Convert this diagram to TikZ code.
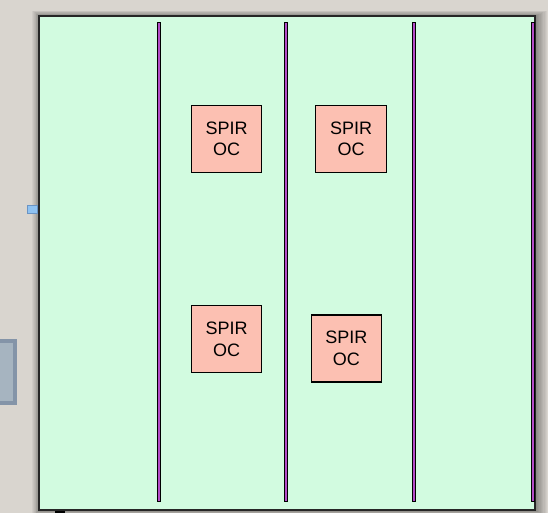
\documentclass[tikz,border=0pt]{standalone}
\usepackage{fontspec}
\setmainfont{Liberation Sans}
\definecolor{bgbeige}{HTML}{D9D5CF}
\definecolor{mint}{HTML}{D2FBE0}
\definecolor{salmon}{HTML}{FCC0B2}
\definecolor{barmag}{HTML}{B44CC8}
\definecolor{frameline}{HTML}{262626}
\definecolor{portblue}{HTML}{8EC2F2}
\definecolor{portblueline}{HTML}{6A94C4}
\definecolor{greyfill}{HTML}{A6B4C0}
\definecolor{greyline}{HTML}{8494A8}
\tikzset{
  spirbox/.style={draw=black, line width=1.2pt, fill=salmon, minimum width=70pt, minimum height=67pt, inner sep=0pt, align=center, font=\fontsize{18}{21.5}\selectfont},
  railbar/.style={draw=black, line width=1pt, fill=barmag, minimum width=3pt, minimum height=479pt, inner sep=0pt, anchor=north},
  frameline/.style={draw=frameline, line width=1.8pt, fill=mint}
}
\begin{document}
\begin{tikzpicture}[x=1pt,y=-1pt]
\fill[bgbeige] (0,0) rectangle (548,513);
\useasboundingbox (0,0) rectangle (548,513);
% grey box at left
\node[draw=greyline, line width=4pt, fill=greyfill, minimum width=22pt, minimum height=62pt, inner sep=0pt, anchor=north west] (grey) at (-9,339) {};
% shadow of frame
\foreach \i in {1,...,9}{
  \fill[black, opacity=0.045] (38-\i*0.8+1.5,15-\i*0.6+1) rectangle (534+\i*1.3+1.5,509+\i*0.8+1);
}
% frame
\node[frameline, minimum width=496pt, minimum height=494pt, inner sep=0pt, anchor=north west] (frame) at (38,15) {};
% port
\node[draw=portblueline, line width=0.9pt, fill=portblue, minimum width=9.5pt, minimum height=8pt, inner sep=0pt] (port) at (32.3,209) {};
% black bit at bottom
\node[fill=black, minimum width=10pt, minimum height=3pt, inner sep=0pt, anchor=north west] (foot) at (55,510.5) {};
% bars
\node[railbar] (bar1) at (159,22.3) {};
\node[railbar] (bar2) at (286.3,22.3) {};
\node[railbar] (bar3) at (413.9,22.3) {};
\node[railbar] (bar4) at (533.2,22.3) {};
% SPIROC boxes
\node[spirbox] (s1) at (226.7,138.7) {SPIR\\OC};
\node[spirbox, minimum width=71pt] (s2) at (351.2,138.7) {SPIR\\OC};
\node[spirbox] (s3) at (226.7,339.2) {SPIR\\OC};
\node[spirbox] (s4) at (346.3,348.5) {SPIR\\OC};
\end{tikzpicture}
\end{document}
